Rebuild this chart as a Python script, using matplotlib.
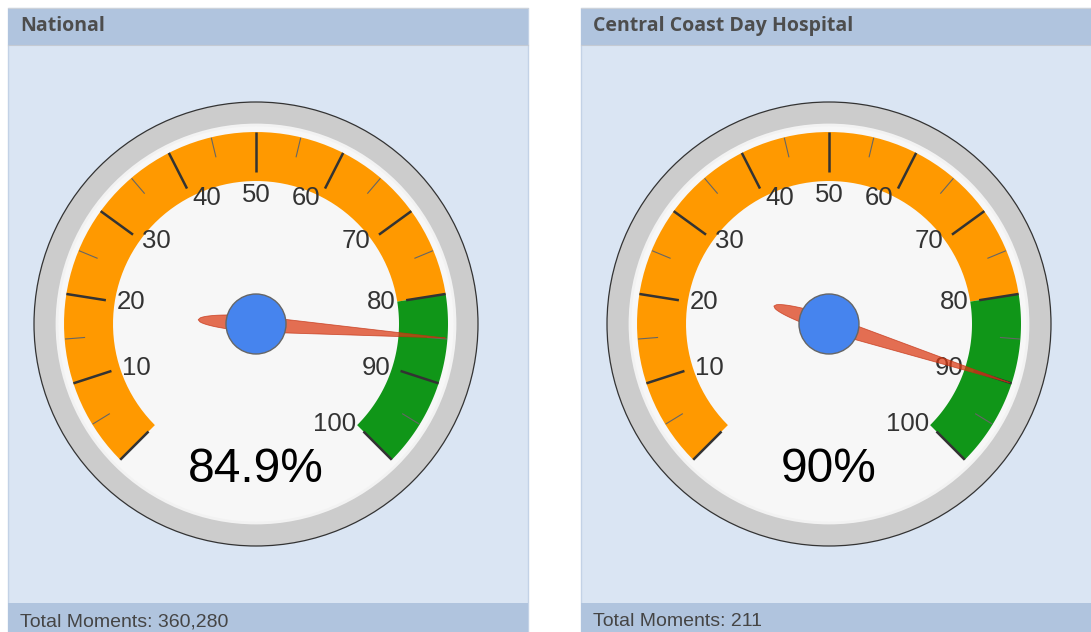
import numpy as np
import matplotlib.pyplot as plt
from matplotlib.patches import Rectangle, Circle, Polygon

plt.rcParams["font.family"] = ["Liberation Sans", "DejaVu Sans"]

# data
panel_titles = ["National", "Central Coast Day Hospital"]
gauge_values = [84.9, 90.0]
value_labels = ["84.9%", "90%"]
total_moments = ["360,280", "211"]
band_ranges = [(0, 80), (80, 100)]
band_colors = ["#ff9900", "#109618"]
major_ticks = list(range(0, 101, 10))
minor_ticks = list(range(5, 100, 10))
tick_labels = [10, 20, 30, 40, 50, 60, 70, 80, 90, 100]
v_min, v_max = 0, 100

# layout (pixels)
W, H = 1091, 632
panel_x = [8, 581]
panel_w = 520
header_top, header_bot, footer_top = 8, 45, 603
gauge_cx = [256, 829]
gauge_cy = 324
R_OUT = 222
R_FACE = 199
R_BAND_OUT, R_BAND_IN = 192, 143
R_LABEL = 141

header_c = "#b0c4de"
body_c = "#dae5f3"


def val_angle(v):
    return np.deg2rad(-135 + 270 * (v - v_min) / (v_max - v_min))


def point(cx, cy, r, v):
    a = val_angle(v)
    return cx + r * np.sin(a), cy - r * np.cos(a)


def draw_gauge(ax, cx, cy, value, label):
    ax.add_patch(Circle((cx, cy), R_OUT, fc="#cccccc", ec="#333333", lw=0.9, zorder=1))
    ax.add_patch(Circle((cx, cy), R_FACE, fc="#f7f7f7", ec="#f2f2f2", lw=2, zorder=1))

    for (v0, v1), col in zip(band_ranges, band_colors):
        vs = np.linspace(v0, v1, 80)
        xo, yo = point(cx, cy, R_BAND_OUT, vs)
        xi, yi = point(cx, cy, R_BAND_IN, vs[::-1])
        pts = np.column_stack([np.r_[xo, xi], np.r_[yo, yi]])
        ax.add_patch(Polygon(pts, closed=True, fc=col, ec="none", zorder=2))

    for v in major_ticks:
        x0, y0 = point(cx, cy, 152, v)
        x1, y1 = point(cx, cy, R_BAND_OUT, v)
        ax.plot([x0, x1], [y0, y1], color="#333333", lw=1.8, zorder=3,
                solid_capstyle="butt")
    for v in minor_ticks:
        x0, y0 = point(cx, cy, 172, v)
        x1, y1 = point(cx, cy, 191, v)
        ax.plot([x0, x1], [y0, y1], color="#666666", lw=0.8, zorder=3)

    for v in tick_labels:
        x, y = point(cx, cy, R_LABEL, v)
        if v < 50:
            ha, va = "left", "center"
        elif v > 50:
            ha, va = "right", "center"
        else:
            ha, va = "center", "top"
        ax.text(x, y, str(v), ha=ha, va=va, fontsize=18.5, color="#333333", zorder=3)

    ax.text(cx, cy + 146, label, ha="center", va="center", fontsize=34.5,
            color="black", zorder=3)

    # needle
    s_tail = np.linspace(-58, 0, 30)
    hw_tail = 8.0 * np.sqrt(np.clip(1 - (s_tail / 58) ** 2, 0, 1))
    s_head = np.linspace(0, 190, 40)
    hw_head = 8.0 * (1 - s_head / 190)
    s = np.r_[s_tail, s_head[1:]]
    hw = np.r_[hw_tail, hw_head[1:]]
    a = val_angle(value)
    u = np.array([np.sin(a), -np.cos(a)])
    n = np.array([np.cos(a), np.sin(a)])
    side1 = np.outer(s, u) + np.outer(hw, n)
    side2 = np.outer(s[::-1], u) - np.outer(hw[::-1], n)
    pts = np.vstack([side1, side2]) + np.array([cx, cy])
    ax.add_patch(Polygon(pts, closed=True, fc="#dc3912", alpha=0.72,
                         ec="#c33010", lw=0.6, zorder=4))

    ax.add_patch(Circle((cx, cy), 30, fc="#4684ee", ec="#666666", lw=1, zorder=5))


fig = plt.figure(figsize=(W / 100, H / 100), dpi=100)
fig.patch.set_facecolor("white")
ax = fig.add_axes([0, 0, 1, 1])
ax.set_xlim(0, W)
ax.set_ylim(H, 0)
ax.axis("off")

for i, px in enumerate(panel_x):
    ax.add_patch(Rectangle((px, header_top), panel_w, H + 20 - header_top,
                           fc=body_c, ec="#c3d2e6", lw=1, zorder=0))
    ax.add_patch(Rectangle((px, header_top), panel_w, header_bot - header_top,
                           fc=header_c, ec="none", zorder=0.5))
    ax.add_patch(Rectangle((px, footer_top), panel_w, H + 20 - footer_top,
                           fc=header_c, ec="none", zorder=0.5))
    ax.plot([px, px + panel_w], [header_bot, header_bot], color="#c4cad3", lw=0.8, zorder=0.6)
    ax.plot([px, px + panel_w], [header_top, header_top], color="#cdd2d9", lw=0.8, zorder=0.6)
    ax.text(px + 12, 26, panel_titles[i], ha="left", va="center", fontsize=14,
            fontweight="bold", color="#4d4d4d", family=["Open Sans", "DejaVu Sans"])
    ax.text(px + 12, 622, "Total Moments: " + total_moments[i], ha="left", va="center",
            fontsize=14, color="#454545")
    draw_gauge(ax, gauge_cx[i], gauge_cy, gauge_values[i], value_labels[i])

fig.savefig("out.png", dpi=100)
